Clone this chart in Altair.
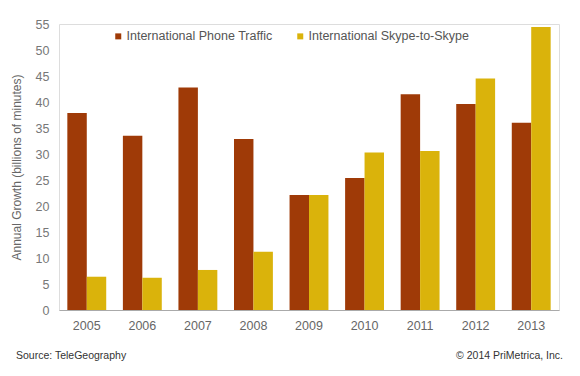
import altair as alt
import pandas as pd

years = ["2005", "2006", "2007", "2008", "2009", "2010", "2011", "2012", "2013"]
phone = [37.9, 33.5, 42.8, 32.9, 22.1, 25.4, 41.5, 39.6, 36.0]
skype = [6.4, 6.2, 7.7, 11.2, 22.1, 30.3, 30.6, 44.5, 54.4]
series = ["International Phone Traffic", "International Skype-to-Skype"]
colors = ["#9f3a07", "#dab30b"]
y_ticks = list(range(0, 56, 5))
footer_left = "Source: TeleGeography"
footer_right = "\u00a9 2014 PriMetrica, Inc."

rows = []
for i, yr in enumerate(years):
    rows.append({"year": yr, "series": series[0], "value": phone[i]})
    rows.append({"year": yr, "series": series[1], "value": skype[i]})
df = pd.DataFrame(rows)

FONT = "Liberation Sans"

bars = alt.Chart(df).mark_bar().encode(
    x=alt.X("year:N", sort=years,
            scale=alt.Scale(paddingInner=0.3, paddingOuter=0.15),
            axis=alt.Axis(title=None, labelAngle=0, ticks=False, domainColor="#aaaaaa",
                          labelColor="#666666", labelFontSize=12.5, labelPadding=9, labelFont=FONT)),
    xOffset=alt.XOffset("series:N", sort=series),
    y=alt.Y("value:Q", scale=alt.Scale(domain=[0, 55], nice=False),
            axis=alt.Axis(values=y_ticks, grid=False, domain=False, ticks=False,
                          title="Annual Growth (billions of minutes)",
                          titleFontWeight="normal", titleFontSize=12, titleColor="#666666",
                          titleFont=FONT, titlePadding=12,
                          labelColor="#777777", labelFontSize=12.5, labelPadding=10, labelFont=FONT)),
    color=alt.Color("series:N", sort=series,
                    scale=alt.Scale(domain=series, range=colors),
                    legend=alt.Legend(orient="none", legendX=53, legendY=6, direction="horizontal",
                                      title=None, symbolType="square", symbolSize=36,
                                      symbolStrokeWidth=0, labelFontSize=12.5, labelColor="#555555",
                                      labelFont=FONT, columnPadding=21, labelOffset=2,
                                      labelLimit=300)),
)

foot_df = pd.DataFrame({"t": [footer_left]})
foot_df2 = pd.DataFrame({"t": [footer_right]})
fl = alt.Chart(foot_df).mark_text(align="left", baseline="middle", fontSize=10.5,
                                   color="#333333", font=FONT).encode(
    text="t:N", x=alt.value(-43), y=alt.value(332))
fr = alt.Chart(foot_df2).mark_text(align="right", baseline="middle", fontSize=10.5,
                                    color="#333333", font=FONT).encode(
    text="t:N", x=alt.value(504), y=alt.value(332))

chart = alt.layer(bars, fl, fr).properties(
    width=500, height=286,
    autosize=alt.AutoSizeParams(type="none"),
    padding={"left": 59, "top": 24, "right": 21, "bottom": 66},
).configure_view(stroke=None).configure(background="white")

chart.save("out.html", embed_options={"renderer": "svg", "actions": False})
